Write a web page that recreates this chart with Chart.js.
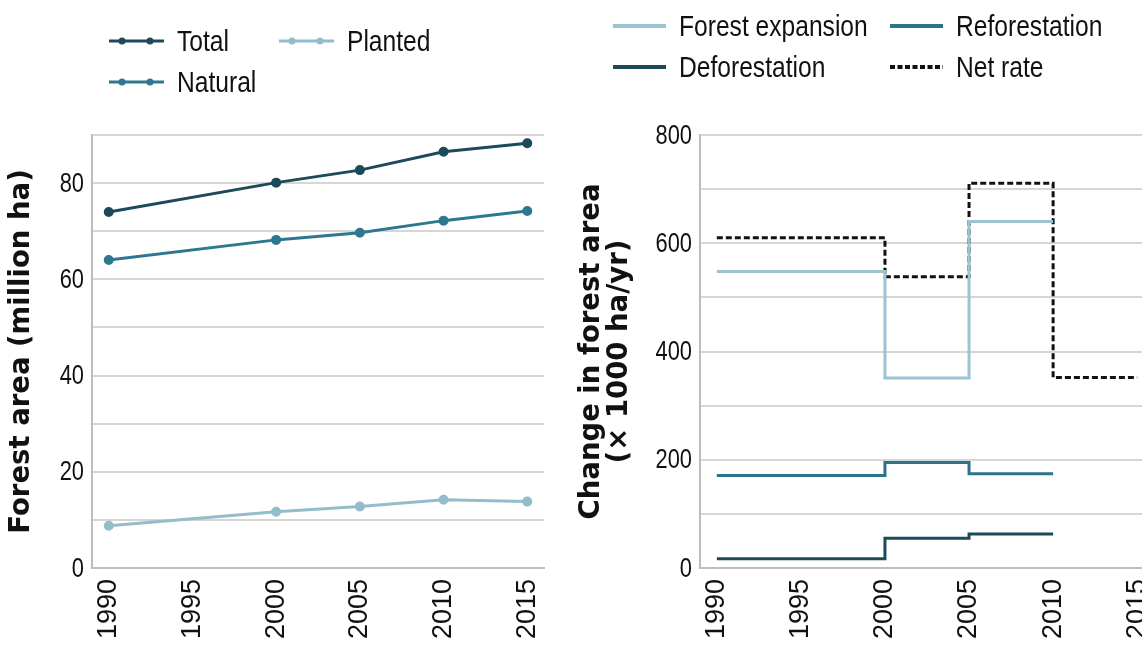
<!DOCTYPE html>
<html>
<head>
<meta charset="utf-8">
<script src="https://cdn.jsdelivr.net/npm/chart.js@4/dist/chart.umd.min.js"></script>
<style>
  html, body { margin:0; padding:0; background:#fff; overflow:hidden; width:1142px; height:645px; }
  #c1 { position:absolute; left:0; top:0; }
  #c2 { position:absolute; left:570px; top:0; }
  .legend { position:absolute; left:0; top:0; font-family:"Liberation Sans",sans-serif; font-size:30px; color:#111; }
  .item { position:absolute; display:flex; align-items:center; white-space:nowrap; }
  .item svg { margin-right:13px; flex:none; }
  .item span { display:inline-block; transform:scaleX(0.82); transform-origin:0 50%; }
</style>
</head>
<body>
<canvas id="c1" width="570" height="645"></canvas>
<canvas id="c2" width="590" height="645"></canvas>
<div class="legend" id="leg"></div>
<script>
// ---------- data ----------
const years = [1990, 2000, 2005, 2010, 2015];
const totalArea = [74.0, 80.1, 82.7, 86.5, 88.3];
const naturalArea = [64.0, 68.2, 69.7, 72.2, 74.2];
const plantedArea = [8.8, 11.7, 12.8, 14.2, 13.8];

const periodStarts = [1990, 2000, 2005, 2010];
const periodEnds = [2000, 2005, 2010, 2015];
const forestExpansion = [548, 351, 640];
const reforestation = [171, 195, 174];
const deforestation = [17, 55, 63];
const netRate = [610, 538, 711, 352];

const xTickLabels = [1990, 1995, 2000, 2005, 2010, 2015];
const leftYTickLabels = [0, 20, 40, 60, 80];
const rightYTickLabels = [0, 200, 400, 600, 800];

// ---------- style ----------
const C_TOTAL = '#1d4a5a', C_NATURAL = '#2d7890', C_PLANTED = '#93bdca';
const C_EXP = '#9cc3cf', C_REF = '#2b7389', C_DEF = '#1d4a59', C_NET = '#111111';
const GRID = '#d6d6d6', BORDER = '#bdbdbd';

function stepPoints(vals) {
  const pts = vals.map((v, i) => ({x: periodStarts[i], y: v}));
  pts.push({x: periodEnds[vals.length - 1], y: vals[vals.length - 1]});
  return pts;
}

const tickFontX = {family: '"Liberation Sans",sans-serif', size: 27};
const titleFont = {family: '"DejaVu Sans",sans-serif', size: 27.5, weight: 'bold', lineHeight: 1.02};

// y tick labels drawn condensed (narrow face of the original)
const narrowTicks = {
  id: 'narrowTicks',
  afterDraw(chart, args, opts) {
    const s = chart.scales.y, ctx = chart.ctx;
    ctx.save();
    ctx.font = '28px "Liberation Sans", sans-serif';
    ctx.fillStyle = '#111';
    ctx.textAlign = 'right';
    ctx.textBaseline = 'middle';
    opts.labels.forEach(v => {
      ctx.save();
      ctx.translate(s.right - 8, s.getPixelForValue(v) + 1);
      ctx.scale(0.78, 1);
      ctx.fillText(String(v), 0, 0);
      ctx.restore();
    });
    ctx.restore();
  }
};

function xScale() {
  return {
    type: 'linear', min: 1989, max: 2016,
    afterBuildTicks: s => { s.ticks = xTickLabels.map(v => ({value: v})); },
    afterFit: s => { s.height = 77; s.paddingLeft = 0; s.paddingRight = 0; },
    grid: {display: false, drawTicks: false},
    border: {display: true, color: BORDER, width: 2},
    ticks: {font: tickFontX, color: '#111', minRotation: 90, maxRotation: 90, padding: 11,
            callback: v => String(v)}
  };
}
function yScale(max, step, title, width) {
  return {
    min: 0, max: max,
    afterFit: s => { s.width = width; },
    grid: {color: GRID, lineWidth: 2, drawTicks: false},
    border: {display: true, color: BORDER, width: 2},
    ticks: {stepSize: step, callback: () => ''},
    title: {display: true, text: title, font: titleFont, color: '#111', padding: {top: 8, bottom: 0}}
  };
}

Chart.defaults.animation = false;

new Chart(document.getElementById('c1'), {
  type: 'line',
  data: {
    datasets: [
      {label: 'Planted', data: years.map((x, i) => ({x, y: plantedArea[i]})), borderColor: C_PLANTED, backgroundColor: C_PLANTED},
      {label: 'Natural', data: years.map((x, i) => ({x, y: naturalArea[i]})), borderColor: C_NATURAL, backgroundColor: C_NATURAL},
      {label: 'Total', data: years.map((x, i) => ({x, y: totalArea[i]})), borderColor: C_TOTAL, backgroundColor: C_TOTAL}
    ].map(d => Object.assign(d, {borderWidth: 3, pointRadius: 3.5, pointHoverRadius: 3.5, tension: 0}))
  },
  options: {
    responsive: false,
    layout: {padding: {left: 0, right: 26, top: 135, bottom: 0}},
    plugins: {legend: {display: false}, tooltip: {enabled: false}, narrowTicks: {labels: leftYTickLabels}},
    scales: {x: xScale(), y: yScale(90, 10, 'Forest area (million ha)', 92)}
  },
  plugins: [narrowTicks]
});

new Chart(document.getElementById('c2'), {
  type: 'line',
  data: {
    datasets: [
      {label: 'Forest expansion', data: stepPoints(forestExpansion), borderColor: C_EXP},
      {label: 'Reforestation', data: stepPoints(reforestation), borderColor: C_REF},
      {label: 'Deforestation', data: stepPoints(deforestation), borderColor: C_DEF},
      {label: 'Net rate', data: stepPoints(netRate), borderColor: C_NET, borderDash: [6, 3]}
    ].map(d => Object.assign(d, {borderWidth: 3, pointRadius: 0, stepped: true, fill: false}))
  },
  options: {
    responsive: false,
    layout: {padding: {left: 0, right: 6, top: 135, bottom: 0}},
    plugins: {legend: {display: false}, tooltip: {enabled: false}, narrowTicks: {labels: rightYTickLabels}},
    scales: {x: xScale(), y: yScale(800, 100, ['Change in forest area', '(× 1000 ha/yr)'], 130)}
  },
  plugins: [narrowTicks]
});

// ---------- HTML legends ----------
function dotIcon(color) {
  return `<svg width="55" height="12"><line x1="0" y1="6" x2="55" y2="6" stroke="${color}" stroke-width="3"/>` +
    `<circle cx="13" cy="6" r="3.5" fill="${color}"/><circle cx="41" cy="6" r="3.5" fill="${color}"/></svg>`;
}
function lineIcon(color, dash) {
  return `<svg width="53" height="8"><line x1="0" y1="4" x2="53" y2="4" stroke="${color}" stroke-width="4"${dash ? ' stroke-dasharray="5,2.5"' : ''}/></svg>`;
}
const legendItems = [
  {x: 109, y: 41, icon: dotIcon(C_TOTAL), text: 'Total'},
  {x: 279, y: 41, icon: dotIcon(C_PLANTED), text: 'Planted'},
  {x: 109, y: 82, icon: dotIcon(C_NATURAL), text: 'Natural'},
  {x: 613, y: 26, icon: lineIcon(C_EXP), text: 'Forest expansion'},
  {x: 890, y: 26, icon: lineIcon(C_REF), text: 'Reforestation'},
  {x: 613, y: 67, icon: lineIcon(C_DEF), text: 'Deforestation'},
  {x: 890, y: 67, icon: lineIcon('#111', true), text: 'Net rate'}
];
const leg = document.getElementById('leg');
legendItems.forEach(it => {
  const d = document.createElement('div');
  d.className = 'item';
  d.style.left = it.x + 'px';
  d.style.top = (it.y - 18) + 'px';
  d.style.height = '36px';
  d.innerHTML = it.icon + '<span>' + it.text + '</span>';
  leg.appendChild(d);
});
</script>
</body>
</html>
